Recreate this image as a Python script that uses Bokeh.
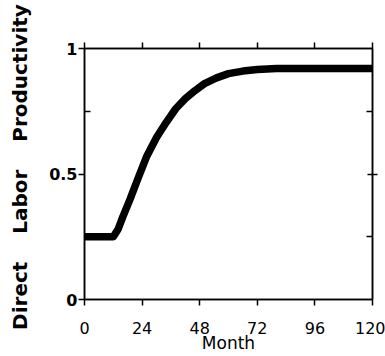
import math
from bokeh.plotting import figure
from bokeh.models import Range1d, FixedTicker, LinearAxis
from bokeh.embed import file_html
from bokeh.resources import INLINE

months = [0, 6, 12, 14, 16, 19, 22, 26, 30, 34, 38, 42, 46, 50, 55, 60, 66, 72, 80, 90, 100, 110, 120]
productivity = [0.25, 0.25, 0.25, 0.28, 0.33, 0.40, 0.475, 0.572, 0.645, 0.705, 0.76, 0.80, 0.832,
                0.86, 0.883, 0.90, 0.91, 0.916, 0.92, 0.92, 0.92, 0.92, 0.92]

x_ticks = [0, 24, 48, 72, 96, 120]
y_ticks = [0, 0.5, 1]
y_minor = [0.25, 0.75]
NB = "\u00a0"
y_label = NB * 2 + "Direct" + NB * 4 + "Labor" + NB * 4 + "Productivity"

p = figure(width=385, height=356, output_backend="svg", toolbar_location=None,
           x_range=Range1d(0, 120), y_range=Range1d(0, 1),
           min_border_left=84, min_border_right=13, min_border_top=48, min_border_bottom=57)
p.grid.visible = False
p.outline_line_color = "black"
p.outline_line_width = 1.5
p.background_fill_color = "white"
p.border_fill_color = "white"

p.line(months, productivity, line_color="black", line_width=7.5, line_join="round")

xa = p.xaxis[0]
xa.ticker = FixedTicker(ticks=x_ticks, minor_ticks=[])
xa.axis_line_width = 1.5
xa.major_tick_out = 6
xa.major_tick_in = 0
xa.major_tick_line_width = 1.5
xa.minor_tick_line_color = None
xa.major_label_text_font = "DejaVu Sans"
xa.major_label_text_font_size = "16px"
xa.major_label_text_color = "black"
xa.major_label_standoff = 16
xa.axis_label = "Month"
xa.axis_label_text_font = "DejaVu Sans"
xa.axis_label_text_font_size = "17px"
xa.axis_label_text_font_style = "normal"
xa.axis_label_text_color = "black"
xa.axis_label_standoff = -4

ya = p.yaxis[0]
ya.ticker = FixedTicker(ticks=y_ticks, minor_ticks=y_minor)
ya.axis_line_width = 1.5
ya.major_tick_out = 6
ya.major_tick_in = 0
ya.major_tick_line_width = 1.5
ya.minor_tick_in = 6
ya.minor_tick_out = 0
ya.minor_tick_line_width = 1.5
ya.major_label_text_font = "DejaVu Sans"
ya.major_label_text_font_style = "bold"
ya.major_label_text_font_size = "16px"
ya.major_label_text_color = "black"
ya.major_label_standoff = 1
ya.axis_label = y_label
ya.axis_label_text_font = "DejaVu Sans"
ya.axis_label_text_font_style = "bold"
ya.axis_label_text_font_size = "20px"
ya.axis_label_text_color = "black"
ya.axis_label_standoff = 14

top = LinearAxis(ticker=FixedTicker(ticks=x_ticks, minor_ticks=[]),
                 axis_line_width=1.5, major_tick_out=6, major_tick_in=0, major_tick_line_width=1.5,
                 minor_tick_line_color=None)
top.major_label_text_color = None
top.major_label_text_font_size = "0px"
p.add_layout(top, "above")
right = LinearAxis(ticker=FixedTicker(ticks=[0.5], minor_ticks=y_minor), axis_line_width=1.5,
                   major_tick_out=5, major_tick_in=5, major_tick_line_width=1.5,
                   minor_tick_in=6, minor_tick_out=0, minor_tick_line_width=1.5)
right.major_label_text_color = None
right.major_label_text_font_size = "0px"
p.add_layout(right, "right")

open("out.html", "w").write(file_html(p, INLINE))
